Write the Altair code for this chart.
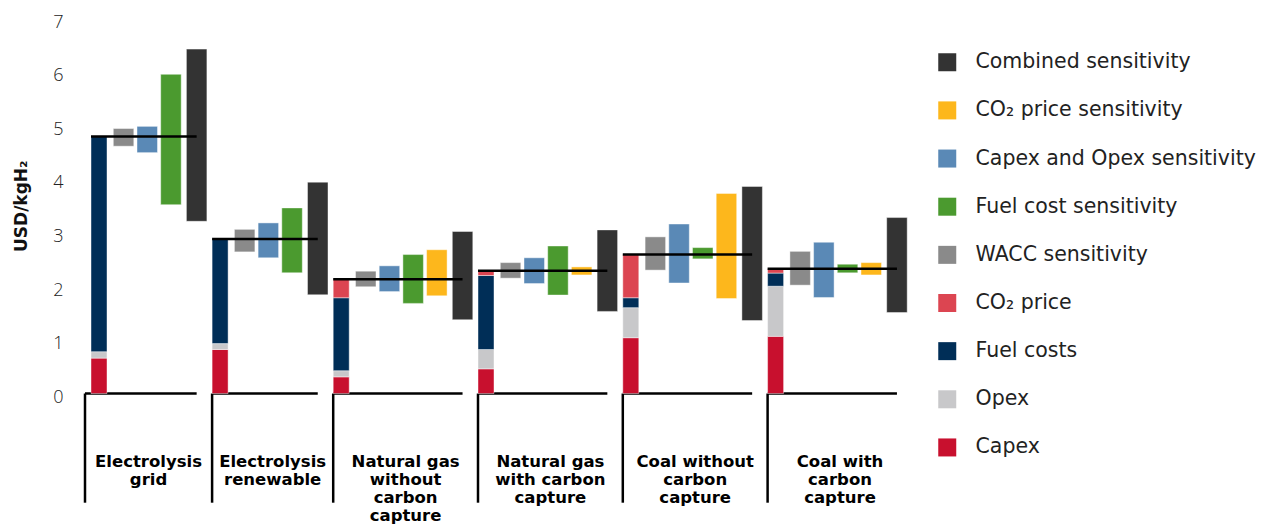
import altair as alt
import pandas as pd

# ---------------- data ----------------
techs = [
    "Electrolysis\ngrid",
    "Electrolysis\nrenewable",
    "Natural gas\nwithout\ncarbon\ncapture",
    "Natural gas\nwith carbon\ncapture",
    "Coal without\ncarbon\ncapture",
    "Coal with\ncarbon\ncapture",
]
capex = [0.66, 0.82, 0.31, 0.46, 1.04, 1.065]
opex = [0.12, 0.11, 0.115, 0.36, 0.56, 0.935]
fuel_costs = [4.01, 1.95, 1.36, 1.38, 0.185, 0.245]
co2_price = [0.0, 0.0, 0.345, 0.09, 0.805, 0.08]

wacc_lo = [4.61, 2.64, 1.99, 2.15, 2.30, 2.02]
wacc_hi = [4.94, 3.06, 2.28, 2.44, 2.92, 2.65]
capop_lo = [4.49, 2.53, 1.90, 2.05, 2.06, 1.79]
capop_hi = [4.98, 3.18, 2.38, 2.53, 3.16, 2.82]
fuel_lo = [3.52, 2.25, 1.68, 1.835, 2.51, 2.25]
fuel_hi = [5.95, 3.46, 2.59, 2.75, 2.72, 2.41]
co2s_lo = [None, None, 1.82, 2.21, 1.77, 2.21]
co2s_hi = [None, None, 2.68, 2.36, 3.73, 2.44]
comb_lo = [3.21, 1.84, 1.375, 1.53, 1.36, 1.51]
comb_hi = [6.42, 3.94, 3.02, 3.05, 3.86, 3.28]

y_ticks = [0, 1, 2, 3, 4, 5, 6, 7]

legend_order = [
    "Combined sensitivity",
    "CO₂ price sensitivity",
    "Capex and Opex sensitivity",
    "Fuel cost sensitivity",
    "WACC sensitivity",
    "CO₂ price",
    "Fuel costs",
    "Opex",
    "Capex",
]
legend_colors = [
    "#333333", "#FDB71C", "#5A89B6", "#4B9A2F", "#8A8A8A",
    "#DC4551", "#002E57", "#C8C8CA", "#C8102E",
]

# ---------------- layout (pixel units of the x scale) ----------------
W, H = 840, 375.5
STACK_W, STACK_GAP, PITCH, BAR_W, DARK_EXTRA, GROUP_GAP, FIRST_PAD = 16, 6.3, 23.7, 20.5, 2, 5.2, 6
LABEL_Y0, LABEL_LH = 449.3, 18.0

bars, totals, bases, labels = [], [], [], []
x = FIRST_PAD
for g, tech in enumerate(techs):
    bracket_left = x - (FIRST_PAD if g == 0 else 0)
    cum = 0.0
    for name, vals in [("Capex", capex), ("Opex", opex), ("Fuel costs", fuel_costs), ("CO₂ price", co2_price)]:
        v = vals[g]
        if v > 0:
            bars.append(dict(tech=tech, series=name, x0=x, x1=x + STACK_W, y0=cum, y1=cum + v))
            cum += v
    s = x + STACK_W + STACK_GAP
    sens = [("WACC sensitivity", wacc_lo, wacc_hi),
            ("Capex and Opex sensitivity", capop_lo, capop_hi),
            ("Fuel cost sensitivity", fuel_lo, fuel_hi),
            ("CO₂ price sensitivity", co2s_lo, co2s_hi)]
    k = 0
    for name, lo, hi in sens:
        if lo[g] is None:
            continue
        bx = s + k * PITCH
        bars.append(dict(tech=tech, series=name, x0=bx, x1=bx + BAR_W, y0=lo[g], y1=hi[g]))
        k += 1
    dark = s + k * PITCH + DARK_EXTRA
    bars.append(dict(tech=tech, series="Combined sensitivity", x0=dark, x1=dark + BAR_W,
                     y0=comb_lo[g], y1=comb_hi[g]))
    mid = dark + BAR_W / 2
    totals.append(dict(tech=tech, x0=x, x1=mid, y=cum))
    bases.append(dict(tech=tech, x0=bracket_left, x1=mid, y=0.0))
    end = dark + BAR_W + GROUP_GAP
    for i, line in enumerate(tech.split("\n")):
        labels.append(dict(tech=tech, line=i, text=line, xc=(bracket_left + end) / 2))
    x = end

bars_df = pd.DataFrame(bars)
tot_df = pd.DataFrame(totals)
base_df = pd.DataFrame(bases)
lab_df = pd.DataFrame(labels)

xscale = alt.Scale(domain=[0, W], nice=False, zero=False)
yscale = alt.Scale(domain=[0, 7], nice=False, zero=False)
yaxis = alt.Axis(values=y_ticks, grid=False, ticks=False, tickSize=0, domain=False,
                 labelFont="Open Sans", labelFontSize=18, labelFontWeight=300,
                 labelColor="#222222", labelPadding=22, labelOffset=4,
                 titleFont="DejaVu Sans", titleFontSize=17, titleFontWeight="bold",
                 titleColor="#111111", titlePadding=22)


def Y(field):
    return alt.Y(field, type="quantitative", scale=yscale, axis=yaxis, title="USD/kgH₂")


def X(field):
    return alt.X(field, type="quantitative", scale=xscale, axis=None)


rects = alt.Chart(bars_df).mark_rect(stroke="white", strokeWidth=0.8, strokeOpacity=0.55).encode(
    x=X("x0"), x2="x1", y=Y("y0"), y2="y1",
    color=alt.Color("series:N",
                    scale=alt.Scale(domain=legend_order, range=legend_colors),
                    legend=alt.Legend(title=None, orient="none", legendX=852, legendY=34,
                                      direction="vertical", symbolType="square",
                                      symbolSize=324, symbolStrokeWidth=0, symbolOpacity=1,
                                      labelFont="DejaVu Sans", labelFontSize=20.5,
                                      labelColor="#222222", labelOffset=18,
                                      rowPadding=27.15, padding=0, labelLimit=400)),
)

verticals = alt.Chart(base_df).mark_rule(color="black", strokeWidth=2.5).encode(
    x=X("x0"), y=Y("y"), y2=alt.value(484.7),
)
baselines = alt.Chart(base_df).mark_rule(color="black", strokeWidth=2.5).encode(
    x=X("x0"), x2="x1", y=Y("y"),
)
total_lines = alt.Chart(tot_df).mark_rule(color="black", strokeWidth=2.5).encode(
    x=X("x0"), x2="x1", y=Y("y"),
)

text_layers = []
for i in range(4):
    text_layers.append(
        alt.Chart(lab_df).transform_filter(alt.datum.line == i).mark_text(
            font="DejaVu Sans", fontSize=16.5, fontWeight="bold",
            align="center", baseline="alphabetic", color="#000000",
        ).encode(
            x=X("xc"), y=alt.value(LABEL_Y0 + i * LABEL_LH), text="text:N",
        )
    )

chart = alt.layer(verticals, baselines, rects, total_lines, *text_layers).properties(
    width=W, height=H,
    autosize=alt.AutoSizeParams(type="none"),
    padding={"left": 77, "top": 10, "right": 341, "bottom": 133},
).configure_view(stroke=None)

chart.save("out.html", embed_options={"renderer": "svg", "actions": False})
